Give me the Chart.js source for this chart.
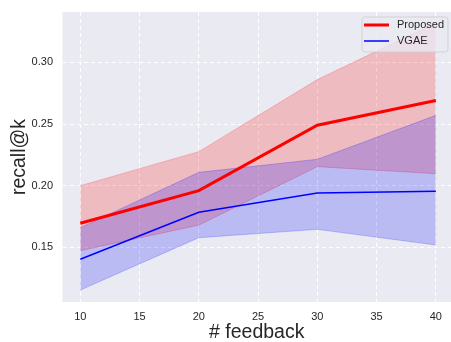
<!DOCTYPE html>
<html>
<head>
<meta charset="utf-8">
<script src="https://cdn.jsdelivr.net/npm/chart.js@4.4.0/dist/chart.umd.min.js"></script>
<style>
html,body{margin:0;padding:0;background:#fff;overflow:hidden;}
#wrap{width:451px;height:342px;position:relative;overflow:hidden;}
</style>
</head>
<body>
<div id="wrap"><canvas id="c" width="451" height="342"></canvas></div>
<script>
const feedback = [10, 20, 30, 40];
const proposedMean  = [0.1695, 0.196, 0.249, 0.269];
const proposedUpper = [0.200, 0.2276, 0.286, 0.332];
const proposedLower = [0.1473, 0.168, 0.2154, 0.2097];
const vgaeMean  = [0.1403, 0.1784, 0.194, 0.1955];
const vgaeUpper = [0.1659, 0.2108, 0.2214, 0.257];
const vgaeLower = [0.1154, 0.1578, 0.1646, 0.1519];
const xTicks = [10, 15, 20, 25, 30, 35, 40];
const yTicks = [0.15, 0.20, 0.25, 0.30];
const seriesNames = ['Proposed', 'VGAE'];

const pts = arr => arr.map((v, i) => ({x: feedback[i], y: v}));
const FONT = "'Liberation Sans', Arial, sans-serif";

const bgPlugin = {
  id: 'bg',
  beforeDraw(chart) {
    const {ctx, chartArea: a} = chart;
    ctx.save();
    ctx.fillStyle = '#EAEAF2';
    ctx.fillRect(a.left, a.top, a.right - a.left, a.bottom - a.top);
    ctx.restore();
  }
};

const legendPlugin = {
  id: 'customLegend',
  afterDraw(chart) {
    const ctx = chart.ctx;
    ctx.save();
    const x = 362, y = 17, w = 86, h = 35, r = 3;
    ctx.beginPath();
    ctx.moveTo(x + r, y);
    ctx.arcTo(x + w, y, x + w, y + h, r);
    ctx.arcTo(x + w, y + h, x, y + h, r);
    ctx.arcTo(x, y + h, x, y, r);
    ctx.arcTo(x, y, x + w, y, r);
    ctx.closePath();
    ctx.fillStyle = 'rgba(234,234,242,0.8)';
    ctx.fill();
    ctx.strokeStyle = 'rgba(204,204,204,0.8)';
    ctx.lineWidth = 1;
    ctx.stroke();
    const items = [
      {label: seriesNames[0], color: '#ff0000', width: 3, y: 25},
      {label: seriesNames[1], color: '#0000ff', width: 1.5, y: 41}
    ];
    ctx.font = '11px ' + FONT;
    ctx.textBaseline = 'middle';
    items.forEach(it => {
      ctx.beginPath();
      ctx.moveTo(364, it.y);
      ctx.lineTo(389, it.y);
      ctx.strokeStyle = it.color;
      ctx.lineWidth = it.width;
      ctx.stroke();
      ctx.fillStyle = '#262626';
      ctx.fillText(it.label, 397, it.y);
    });
    ctx.restore();
  }
};

const bandEdge = (c) => ({pointRadius: 0, borderWidth: 1, borderColor: c, tension: 0});

new Chart(document.getElementById('c'), {
  type: 'line',
  data: {
    datasets: [
      Object.assign({label: 'pu', data: pts(proposedUpper), fill: '+1', backgroundColor: 'rgba(255,0,0,0.2)', order: 3}, bandEdge('rgba(255,0,0,0.2)')),
      Object.assign({label: 'pl', data: pts(proposedLower), fill: false, order: 3}, bandEdge('rgba(255,0,0,0.2)')),
      Object.assign({label: 'vu', data: pts(vgaeUpper), fill: '+1', backgroundColor: 'rgba(0,0,255,0.2)', order: 2}, bandEdge('rgba(0,0,255,0.2)')),
      Object.assign({label: 'vl', data: pts(vgaeLower), fill: false, order: 2}, bandEdge('rgba(0,0,255,0.2)')),
      {label: seriesNames[0], data: pts(proposedMean), borderColor: '#ff0000', borderWidth: 3, pointRadius: 0, fill: false, order: 0, tension: 0},
      {label: seriesNames[1], data: pts(vgaeMean), borderColor: '#0000ff', borderWidth: 1.5, pointRadius: 0, fill: false, order: 1, tension: 0}
    ]
  },
  options: {
    responsive: false,
    animation: false,
    layout: {padding: {top: 12, right: -5, left: 0, bottom: 0}},
    plugins: {legend: {display: false}, tooltip: {enabled: false}},
    scales: {
      x: {
        type: 'linear',
        min: 8.5,
        max: 41.28,
        afterBuildTicks: s => { s.ticks = xTicks.map(v => ({value: v})); },
        afterFit: s => { s.height = 40; s.paddingLeft = 0; s.paddingRight = 0; },
        grid: {color: '#ffffff', lineWidth: 1, drawTicks: false},
        border: {display: false, dash: [4, 3]},
        ticks: {padding: 8, color: '#262626', font: {family: FONT, size: 11}, maxRotation: 0,
          callback: v => String(v)},
        title: {display: true, text: '# feedback', color: '#262626',
          font: {family: FONT, size: 19.5, lineHeight: 1}, padding: {top: 0, bottom: 0}}
      },
      y: {
        type: 'linear',
        min: 0.1057,
        max: 0.3408,
        afterBuildTicks: s => { s.ticks = yTicks.map(v => ({value: v})); },
        afterFit: s => { s.width = 62.5; s.paddingTop = 0; s.paddingBottom = 0; },
        grid: {color: '#ffffff', lineWidth: 1, drawTicks: false},
        border: {display: false, dash: [4, 3]},
        ticks: {padding: 9.5, color: '#262626', font: {family: FONT, size: 11},
          callback: v => Number(v).toFixed(2)},
        title: {display: true, text: 'recall@k', color: '#262626',
          font: {family: FONT, size: 19.5, lineHeight: 1}, padding: {top: 10, bottom: 0}}
      }
    }
  },
  plugins: [bgPlugin, legendPlugin]
});
</script>
</body>
</html>
